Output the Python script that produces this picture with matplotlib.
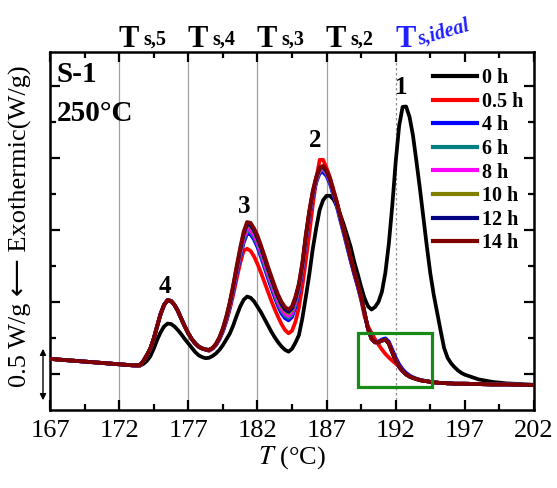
import matplotlib
matplotlib.use('Agg')
import matplotlib.pyplot as plt
from matplotlib.ticker import FixedLocator
from matplotlib.patches import Rectangle, FancyArrowPatch
import matplotlib.transforms as mtransforms

plt.rcParams['font.family'] = ['Liberation Serif', 'DejaVu Serif', 'DejaVu Sans']
plt.rcParams['mathtext.fontset'] = 'stix'

# ---------------- data (temperature grid in segments) ----------------
T_a = [167, 169, 171, 173, 173.5, 173.75, 174, 174.25, 174.5, 174.75, 175, 175.25,
       175.5, 175.75, 176, 176.25, 176.5, 176.75, 177, 177.25, 177.5, 177.75, 178, 178.25]
T_b = [178.5, 178.75, 179, 179.25, 179.5, 179.75, 180, 180.25, 180.5, 180.75,
       181, 181.25, 181.5, 181.75, 182, 182.25, 182.5, 182.75, 183, 183.25,
       183.5, 183.75, 184, 184.25, 184.5, 184.75, 185, 185.25, 185.5, 185.75,
       186, 186.25, 186.5, 186.75, 187, 187.25, 187.5, 187.75, 188, 188.25,
       188.5, 188.75, 189, 189.25, 189.5, 189.75, 190, 190.25]
T_c = [190.5, 190.75, 191, 191.25, 191.5, 191.75, 192, 192.25, 192.5, 192.75,
       193, 193.25, 193.5, 193.75, 194, 194.25, 194.5, 194.75, 195, 195.25,
       195.5, 195.75, 196, 196.25, 196.5, 196.75, 197, 198, 199, 200, 202]

# heat flow (arbitrary offset units)
black_a = [1.42, 1.36, 1.30, 1.24, 1.23, 1.28, 1.36, 1.49, 1.70, 1.95, 2.16, 2.32,
           2.40, 2.39, 2.32, 2.22, 2.10, 1.97, 1.85, 1.73, 1.61, 1.52, 1.47, 1.44]
aged_a = [1.42, 1.36, 1.30, 1.24, 1.24, 1.36, 1.52, 1.70, 1.98, 2.33, 2.67, 2.92,
          3.05, 3.03, 2.92, 2.75, 2.53, 2.32, 2.13, 1.97, 1.85, 1.76, 1.71, 1.68]

black_b = [1.45, 1.50, 1.57, 1.67, 1.80, 1.96, 2.12, 2.35, 2.62, 2.87,
           3.06, 3.15, 3.12, 3.02, 2.87, 2.72, 2.54, 2.36, 2.18, 2.02,
           1.88, 1.76, 1.67, 1.62, 1.70, 1.87, 2.08, 2.55, 3.14, 3.76,
           4.47, 5.05, 5.56, 5.83, 5.95, 5.95, 5.85, 5.66, 5.42, 5.14,
           4.84, 4.52, 4.12, 3.78, 3.42, 3.10, 2.88, 2.79]
red_b = [1.64, 1.70, 1.80, 1.96, 2.18, 2.46, 2.80, 3.20, 3.65, 4.08,
         4.42, 4.48, 4.42, 4.27, 4.06, 3.82, 3.56, 3.30, 3.04, 2.80,
         2.58, 2.38, 2.22, 2.13, 2.20, 2.45, 2.85, 3.45, 4.15, 4.90,
         5.68, 6.40, 6.95, 6.95, 6.72, 6.46, 6.12, 5.78, 5.38, 4.98,
         4.58, 4.18, 3.80, 3.45, 3.05, 2.60, 2.32, 2.14]
blue_b = [1.66, 1.71, 1.81, 1.97, 2.19, 2.49, 2.86, 3.30, 3.78, 4.23,
          4.64, 4.90, 4.88, 4.74, 4.53, 4.26, 3.97, 3.68, 3.40, 3.13,
          2.88, 2.68, 2.55, 2.49, 2.58, 2.86, 3.28, 3.89, 4.68, 5.37,
          5.92, 6.32, 6.58, 6.61, 6.50, 6.28, 5.96, 5.64, 5.26, 4.89,
          4.51, 4.13, 3.77, 3.44, 3.09, 2.67, 2.24, 1.98]
teal_b = [1.66, 1.71, 1.82, 1.98, 2.21, 2.51, 2.89, 3.34, 3.83, 4.29,
          4.71, 4.97, 4.95, 4.81, 4.60, 4.33, 4.04, 3.75, 3.47, 3.20,
          2.95, 2.75, 2.62, 2.56, 2.65, 2.93, 3.34, 3.94, 4.73, 5.42,
          5.97, 6.37, 6.63, 6.67, 6.56, 6.34, 6.02, 5.70, 5.32, 4.95,
          4.57, 4.19, 3.82, 3.49, 3.13, 2.70, 2.26, 1.99]
magenta_b = [1.66, 1.71, 1.82, 1.99, 2.22, 2.53, 2.91, 3.37, 3.86, 4.33,
             4.76, 5.02, 5.00, 4.86, 4.65, 4.38, 4.09, 3.80, 3.52, 3.25,
             3.00, 2.80, 2.67, 2.61, 2.70, 2.98, 3.38, 3.97, 4.76, 5.44,
             5.99, 6.39, 6.66, 6.70, 6.58, 6.36, 6.03, 5.71, 5.33, 4.96,
             4.58, 4.19, 3.82, 3.49, 3.13, 2.69, 2.25, 1.98]
olive_b = [1.67, 1.72, 1.83, 2.00, 2.24, 2.55, 2.94, 3.41, 3.92, 4.40,
           4.85, 5.12, 5.10, 4.95, 4.74, 4.47, 4.18, 3.88, 3.60, 3.33,
           3.08, 2.88, 2.75, 2.69, 2.78, 3.05, 3.44, 4.02, 4.80, 5.47,
           6.02, 6.42, 6.69, 6.73, 6.61, 6.38, 6.05, 5.73, 5.35, 4.97,
           4.59, 4.20, 3.83, 3.50, 3.14, 2.69, 2.25, 1.98]
navy_b = [1.67, 1.72, 1.83, 2.00, 2.25, 2.57, 2.96, 3.43, 3.95, 4.44,
          4.89, 5.16, 5.14, 4.99, 4.78, 4.51, 4.23, 3.93, 3.65, 3.38,
          3.13, 2.93, 2.79, 2.73, 2.82, 3.09, 3.47, 4.05, 4.83, 5.50,
          6.05, 6.45, 6.72, 6.75, 6.63, 6.40, 6.06, 5.74, 5.36, 4.98,
          4.60, 4.20, 3.83, 3.50, 3.14, 2.69, 2.25, 1.98]
brown_b = [1.67, 1.72, 1.84, 2.02, 2.27, 2.60, 3.00, 3.48, 4.00, 4.50,
           4.95, 5.22, 5.20, 5.05, 4.85, 4.58, 4.30, 4.00, 3.72, 3.45,
           3.20, 3.00, 2.86, 2.79, 2.88, 3.15, 3.52, 4.10, 4.87, 5.53,
           6.08, 6.48, 6.74, 6.78, 6.66, 6.42, 6.08, 5.76, 5.38, 5.00,
           4.62, 4.22, 3.85, 3.52, 3.16, 2.70, 2.25, 1.98]

black_c = [2.86, 3.00, 3.28, 3.81, 4.61, 5.67, 6.90, 7.90, 8.42, 8.43,
           8.14, 7.62, 6.90, 6.15, 5.35, 4.55, 3.80, 3.20, 2.70, 2.20,
           1.72, 1.45, 1.30, 1.19, 1.10, 1.03, 0.98, 0.85, 0.78, 0.74, 0.70]
red_c = [1.97, 1.82, 1.68, 1.56, 1.46, 1.37, 1.29, 1.20, 1.08, 0.99,
         0.93, 0.89, 0.86, 0.83, 0.81, 0.80, 0.78, 0.77, 0.76, 0.75,
         0.75, 0.74, 0.74, 0.73, 0.73, 0.73, 0.73, 0.72, 0.71, 0.71, 0.69]
blue_c = [1.89, 1.90, 1.96, 1.99, 1.90, 1.68, 1.45, 1.27, 1.13, 1.03,
          0.96, 0.91, 0.87, 0.84, 0.82, 0.80, 0.78, 0.77, 0.76, 0.75,
          0.75, 0.74, 0.74, 0.73, 0.73, 0.73, 0.73, 0.72, 0.71, 0.71, 0.69]
aged_c = [1.88, 1.88, 1.93, 1.95, 1.85, 1.60, 1.37, 1.20, 1.08, 0.99,
          0.93, 0.89, 0.86, 0.83, 0.81, 0.80, 0.78, 0.77, 0.76, 0.75,
          0.75, 0.74, 0.74, 0.73, 0.73, 0.73, 0.73, 0.72, 0.71, 0.71, 0.69]

labels = ['0 h', '0.5 h', '4 h', '6 h', '8 h', '10 h', '12 h', '14 h']
colors = ['#000000', '#ff0000', '#0000ff', '#008080', '#ff00ff', '#808000', '#000080', '#800000']
series = [
    black_a + black_b + black_c,
    aged_a + red_b + red_c,
    aged_a + blue_b + blue_c,
    aged_a + teal_b + aged_c,
    aged_a + magenta_b + aged_c,
    aged_a + olive_b + aged_c,
    aged_a + navy_b + aged_c,
    aged_a + brown_b + aged_c,
]
T = T_a + T_b + T_c

Ts_pos = [172, 177, 182, 187]
Ts_names = ['s,5', 's,4', 's,3', 's,2']
Ts_ideal = 192
peak_labels = ['1', '2', '3', '4']
peak_pos = [(192.4, 8.78), (186.16, 7.31), (181.06, 5.47), (175.32, 3.25)]

# ---------------- figure ----------------
W, H = 557, 488
fig = plt.figure(figsize=(W / 100, H / 100), dpi=100)
ax = fig.add_axes([50 / W, 1 - 410 / H, 484 / W, 358 / H])

for xv in Ts_pos:
    ax.axvline(xv, color='#a0a0a0', lw=0.9, zorder=1)
ax.axvline(Ts_ideal, color='#909090', lw=0.9, ls=(0, (2, 2)), zorder=1)

lines = []
for y, c, lab in zip(series, colors, labels):
    ln, = ax.plot(T, y, color=c, lw=2.7, label=lab, zorder=3, solid_joinstyle='round')
    lines.append(ln)

ax.add_patch(Rectangle((189.27, 0.64), 5.33, 1.50, fill=False, edgecolor='#178a17',
                       lw=2.3, zorder=4))

ax.set_xlim(167, 202)
ax.set_ylim(0, 358 / 36)
ax.xaxis.set_major_locator(FixedLocator([167, 172, 177, 182, 187, 192, 197, 202]))
ax.xaxis.set_minor_locator(FixedLocator([169.5, 174.5, 179.5, 184.5, 189.5, 194.5, 199.5]))
ax.yaxis.set_major_locator(FixedLocator([1, 3, 5, 7, 9]))
ax.yaxis.set_minor_locator(FixedLocator([2, 4, 6, 8]))
ax.set_yticklabels([])
ax.tick_params(which='both', direction='in', top=True, right=True, width=1.6)
ax.tick_params(which='major', length=7, labelsize=19, pad=7)
ax.tick_params(which='minor', length=4)
for s in ax.spines.values():
    s.set_linewidth(1.8)

ax.set_xlabel(r'$T$ (°C)', fontsize=19, labelpad=2)

# peak numbers
for lab, (px, py) in zip(peak_labels, peak_pos):
    ax.text(px, py, lab, ha='center', va='baseline', fontsize=18, fontweight='bold', zorder=5)

# top labels
trans = mtransforms.blended_transform_factory(ax.transData, fig.transFigure)
sub_off = mtransforms.ScaledTranslation(0.245, 0.02, fig.dpi_scale_trans)
ybase = 1 - 47 / H
for xv, nm in zip(Ts_pos, Ts_names):
    ax.text(xv - 0.05, ybase, 'T', transform=trans, ha='left', va='baseline',
            fontsize=22, fontweight='bold')
    ax.text(xv - 0.05, ybase, nm, transform=trans + sub_off, ha='left', va='baseline',
            fontsize=14.5, fontweight='bold')
ax.text(Ts_ideal - 0.05, ybase, 'T', transform=trans, ha='left', va='baseline',
        fontsize=22, fontweight='bold', color='#1f1fff')
ax.text(Ts_ideal - 0.05, ybase, 's,ideal', transform=trans + sub_off, ha='left',
        va='baseline', fontsize=14.5, fontweight='bold', fontstyle='italic',
        color='#1f1fff', rotation=16, rotation_mode='anchor')

# sample info
fig.text(57 / W, 1 - 82 / H, 'S-1', fontsize=21, fontweight='bold', va='baseline')
fig.text(57 / W, 1 - 121 / H, '250°C', fontsize=21, fontweight='bold', va='baseline')

# y label and scale bar
fig.text(20 / W, 1 - 226 / H, '0.5 W/g ⟵ Exothermic(W/g)', rotation=90, fontsize=19,
         ha='center', va='center', family=['Liberation Serif', 'DejaVu Sans'])
fig.patches.append(FancyArrowPatch(
    (43 / W, 1 - 403 / H), (43 / W, 1 - 346 / H), transform=fig.transFigure,
    arrowstyle='<|-|>', mutation_scale=9, lw=1.0, color='black'))

leg = ax.legend(handles=lines, loc='upper left', bbox_to_anchor=(433 / W, 1 - 68 / H),
                bbox_transform=fig.transFigure, frameon=False, borderpad=0,
                borderaxespad=0, handlelength=2.2, handletextpad=0.25,
                labelspacing=0.18, prop={'weight': 'bold', 'size': 14.5})
for h in leg.get_lines():
    h.set_linewidth(3)

fig.savefig('out.png', dpi=100)
